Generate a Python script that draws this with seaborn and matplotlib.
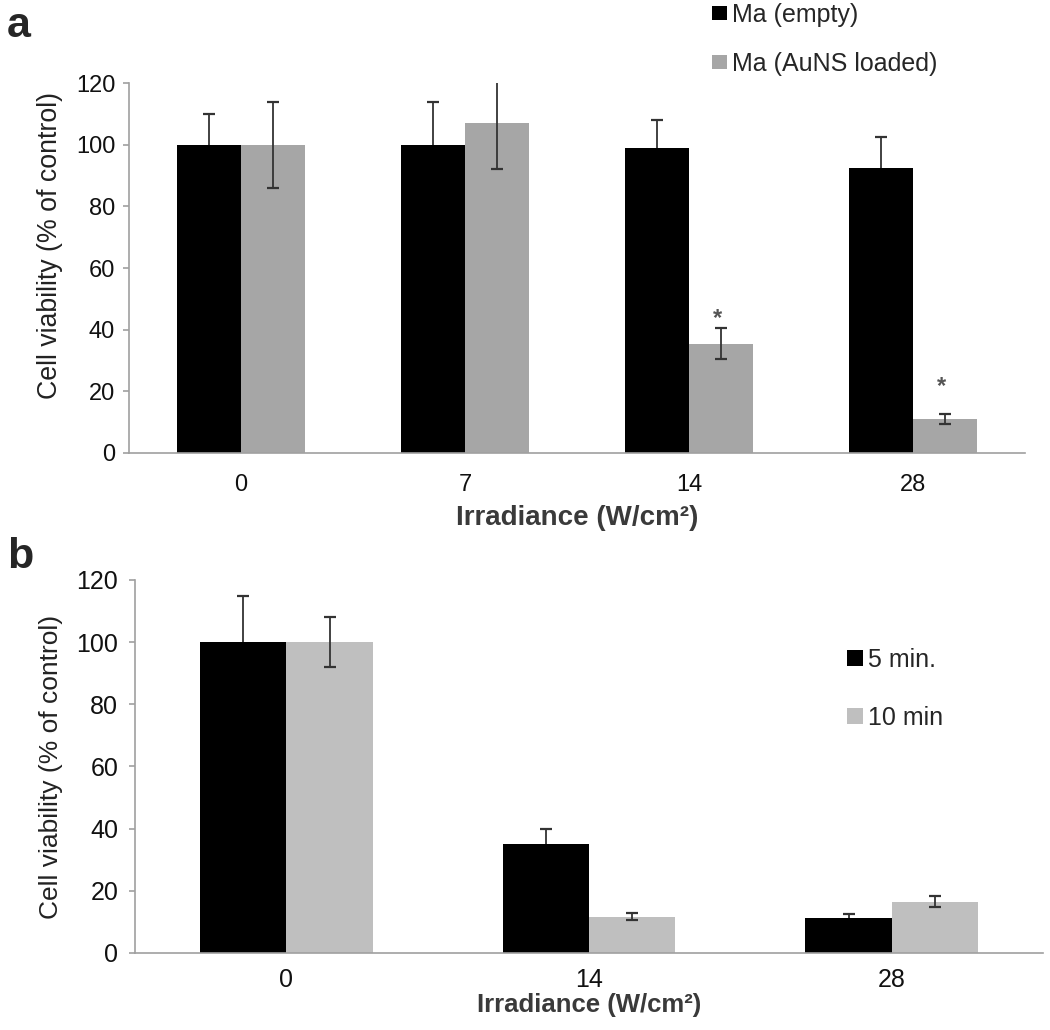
import seaborn as sns
import matplotlib.pyplot as plt
import pandas as pd

# データ (panel a)
irr_a = ['0', '7', '14', '28']
empty_mean = [100, 100, 99, 92.5]
empty_err = [10, 14, 9, 10]
loaded_mean = [100, 107, 35.5, 11]
loaded_err = [14, 15, 5, 1.7]
star_a = {'14': 43.5, '28': 21.5}

# データ (panel b)
irr_b = ['0', '14', '28']
min5_mean = [100, 35, 11.2]
min5_err = [15, 5, 1.2]
min10_mean = [100, 11.7, 16.5]
min10_err = [8, 1.2, 1.7]

sns.set_style('white')
plt.rcParams['font.family'] = ['Liberation Sans', 'DejaVu Sans']

df_a = pd.DataFrame({
    'irr': irr_a * 2,
    'val': empty_mean + loaded_mean,
    'grp': ['Ma (empty)'] * 4 + ['Ma (AuNS loaded)'] * 4,
})
df_b = pd.DataFrame({
    'irr': irr_b * 2,
    'val': min5_mean + min10_mean,
    'grp': ['5 min.'] * 3 + ['10 min'] * 3,
})

fig = plt.figure(figsize=(10.5, 10.3), dpi=100)
ax_a = fig.add_axes([0.1229, 0.5602, 0.8533, 0.3592])
ax_b = fig.add_axes([0.1286, 0.0748, 0.8648, 0.3621])

sns.barplot(data=df_a, x='irr', y='val', hue='grp', order=irr_a,
            hue_order=['Ma (empty)', 'Ma (AuNS loaded)'],
            palette=['#000000', '#a6a6a6'], saturation=1, width=0.57,
            linewidth=0, errorbar=None, ax=ax_a)
sns.barplot(data=df_b, x='irr', y='val', hue='grp', order=irr_b,
            hue_order=['5 min.', '10 min'],
            palette=['#000000', '#bfbfbf'], saturation=1, width=0.57,
            linewidth=0, errorbar=None, ax=ax_b)


def add_err(ax, means, errs):
    # 各バーの中心にエラーバー (黒バーの分はバーの後ろに)
    for i, (cont, m, e) in enumerate(zip(ax.containers, means, errs)):
        xs = [b.get_x() + b.get_width() / 2 for b in cont]
        ax.errorbar(xs, m, yerr=e, fmt='none', ecolor='#333333',
                    elinewidth=1.3, capsize=4.5, capthick=1.6,
                    zorder=0.9 if i == 0 else 3)


add_err(ax_a, [empty_mean, loaded_mean], [empty_err, loaded_err])
add_err(ax_b, [min5_mean, min10_mean], [min5_err, min10_err])

# アスタリスク
for bar, lab in zip(ax_a.containers[1], irr_a):
    if lab in star_a:
        ax_a.text(bar.get_x() + bar.get_width() / 2 - 0.015, star_a[lab], '*',
                  ha='center', va='center', fontsize=17, fontweight='bold',
                  color='#555555')

# 軸の設定
for ax, n, fs, xpad, ypad in [(ax_a, 4, 17, 15, 5.5),
                              (ax_b, 3, 18, 11, 7.5)]:
    ax.set_ylim(0, 120)
    ax.set_xlim(-0.5, n - 0.5)
    ax.set_yticks(range(0, 121, 20))
    for s in ['top', 'right']:
        ax.spines[s].set_visible(False)
    for s in ['left', 'bottom']:
        ax.spines[s].set_color('#a0a0a0')
        ax.spines[s].set_linewidth(1.2)
    ax.set_xticks([i - 0.5 for i in range(n + 1)], minor=True)
    ax.tick_params(axis='x', which='major', length=0, pad=xpad,
                   labelsize=fs, labelcolor='#111111')
    ax.tick_params(axis='x', which='minor', length=4.5, width=1.2,
                   color='#a0a0a0', direction='out')
    ax.tick_params(axis='y', which='major', length=4.5, width=1.2,
                   color='#a0a0a0', direction='out', left=True, pad=ypad,
                   labelsize=fs, labelcolor='#111111')

ax_a.set_xlabel('Irradiance (W/cm²)', fontsize=20, fontweight='bold',
                color='#3a3a3a')
ax_b.set_xlabel('Irradiance (W/cm²)', fontsize=18.5, fontweight='bold',
                color='#3a3a3a')
ax_a.xaxis.set_label_coords(0.5, -0.14)
ax_b.xaxis.set_label_coords(0.5, -0.107)

ax_a.set_ylabel('Cell viability (% of control)', fontsize=19.3, color='#222222')
ax_b.set_ylabel('Cell viability (% of control)', fontsize=19, color='#222222')
ax_a.yaxis.set_label_coords(-0.074, 0.562)
ax_b.yaxis.set_label_coords(-0.079, 0.5)

# 凡例
sns.move_legend(ax_a, 'upper left', bbox_to_anchor=(712 / 1050, 1 - 3 / 1030),
                bbox_transform=fig.transFigure, frameon=False, title='',
                fontsize=18, handlelength=0.6, handleheight=0.5,
                handletextpad=0.2, labelspacing=1.0, borderpad=0,
                borderaxespad=0)
sns.move_legend(ax_b, 'upper left', bbox_to_anchor=(847 / 1050, 1 - 648 / 1030),
                bbox_transform=fig.transFigure, frameon=False, title='',
                fontsize=18, handlelength=0.64, handleheight=0.64,
                handletextpad=0.2, labelspacing=1.35, borderpad=0,
                borderaxespad=0)

# パネルラベル
fig.text(7 / 1050, 1 - 37 / 1030, 'a', fontsize=31, fontweight='bold')
fig.text(7 / 1050, 1 - 568 / 1030, 'b', fontsize=31, fontweight='bold')

fig.savefig('out.png', dpi=100)
